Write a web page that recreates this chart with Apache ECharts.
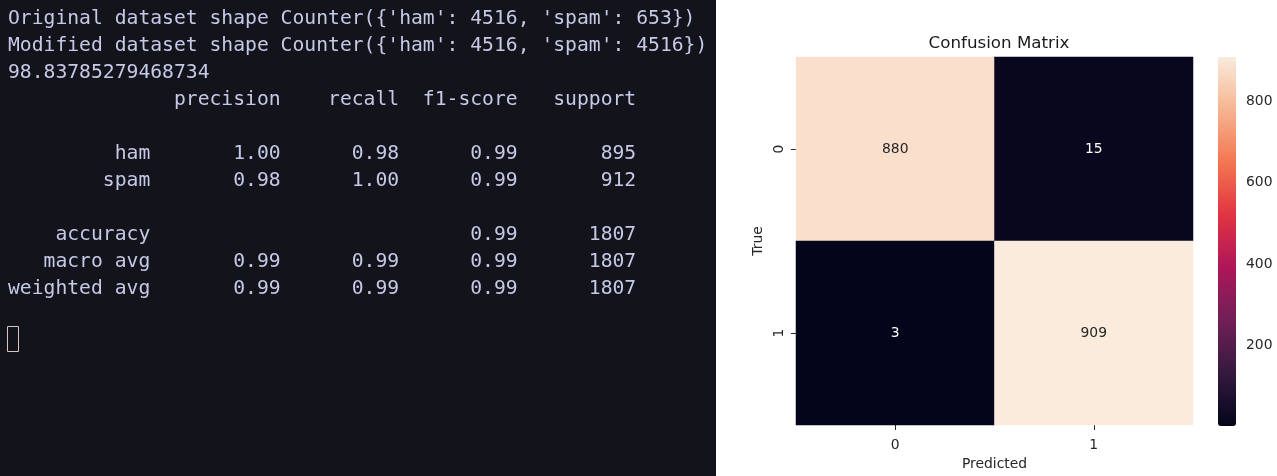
<!DOCTYPE html>
<html>
<head>
<meta charset="utf-8">
<script src="https://cdn.jsdelivr.net/npm/echarts@6/dist/echarts.min.js"></script>
<style>
html,body{margin:0;padding:0;background:#ffffff;}
#chart{width:1277px;height:476px;}
</style>
</head>
<body>
<div id="chart"></div>
<script>
// ---- data ----
const terminalLines = [
  "Original dataset shape Counter({'ham': 4516, 'spam': 653})",
  "Modified dataset shape Counter({'ham': 4516, 'spam': 4516})",
  "98.83785279468734",
  "              precision    recall  f1-score   support",
  "",
  "         ham       1.00      0.98      0.99       895",
  "        spam       0.98      1.00      0.99       912",
  "",
  "    accuracy                           0.99      1807",
  "   macro avg       0.99      0.99      0.99      1807",
  "weighted avg       0.99      0.99      0.99      1807"
];
const predictedLabels = ['0', '1'];
const trueLabels = ['0', '1'];
const confusion = [
  [880, 15],
  [3, 909]
];
const colorbarTicks = [200, 400, 600, 800];
const rocket = ['#03051a', '#35193e', '#701f57', '#ad1759', '#e13342', '#f37651', '#f6b48f', '#faebdd'];

// ---- build ----
const flat = confusion.flat();
const vMin = Math.min(...flat), vMax = Math.max(...flat);
const heatData = [];
confusion.forEach((row, r) => row.forEach((v, c) => {
  heatData.push({
    value: [c, r, v],
    label: { color: (v - vMin) / (vMax - vMin) > 0.5 ? '#262626' : '#ffffff' }
  });
}));

const lineStart = 19, lineStep = 26.95;
const termGraphics = [
  { type: 'rect', shape: { x: 0, y: 0, width: 716, height: 476 }, style: { fill: '#13131c' }, z: 0 }
];
terminalLines.forEach((t, i) => {
  if (!t) return;
  termGraphics.push({
    type: 'text', x: 8, y: lineStart + lineStep * i, z: 1,
    style: { text: t, fill: '#c4c9e6', font: '19.7px "DejaVu Sans Mono"', verticalAlign: 'middle', align: 'left' }
  });
});
termGraphics.push({
  type: 'rect', shape: { x: 7.5, y: 326.5, width: 11, height: 25 },
  style: { fill: 'none', stroke: '#d9c4c4', lineWidth: 1 }, z: 1
});

const chart = echarts.init(document.getElementById('chart'), null, { renderer: 'canvas' });
const font = 'DejaVu Sans';
const fs = 13.9;
chart.setOption({
  animation: false,
  backgroundColor: '#ffffff',
  textStyle: { fontFamily: font },
  title: {
    text: 'Confusion Matrix', left: 994, top: 30, textAlign: 'center',
    textStyle: { fontFamily: font, fontSize: 16.7, fontWeight: 'normal', color: '#1a1a1a' }
  },
  graphic: termGraphics,
  grid: [
    { left: 796, top: 57, width: 397, height: 369 },
    { left: 1218, top: 57, width: 18, height: 369 }
  ],
  xAxis: [
    {
      type: 'category', gridIndex: 0, data: predictedLabels, position: 'bottom',
      name: 'Predicted', nameLocation: 'middle', nameGap: 32,
      nameTextStyle: { fontFamily: font, fontSize: fs, color: '#262626' },
      axisLine: { show: false },
      axisTick: { show: true, alignWithLabel: true, length: 5, lineStyle: { color: '#262626' } },
      axisLabel: { fontFamily: font, fontSize: fs, color: '#262626', margin: 13 },
      splitLine: { show: false }
    },
    { type: 'value', gridIndex: 1, show: false }
  ],
  yAxis: [
    {
      type: 'category', gridIndex: 0, data: trueLabels, inverse: true,
      name: 'True', nameLocation: 'middle', nameGap: 31, nameRotate: 90,
      nameTextStyle: { fontFamily: font, fontSize: fs, color: '#262626' },
      axisLine: { show: false },
      axisTick: { show: true, alignWithLabel: true, length: 5, lineStyle: { color: '#262626' } },
      axisLabel: { fontFamily: font, fontSize: fs, color: '#262626', rotate: 90, margin: 10 },
      splitLine: { show: false }
    },
    {
      type: 'value', gridIndex: 1, min: vMin, max: vMax, position: 'right',
      axisLine: { show: false },
      splitLine: { show: false },
      axisTick: { show: true, length: 4, customValues: colorbarTicks, lineStyle: { color: '#262626' } },
      axisLabel: { fontFamily: font, fontSize: fs, color: '#262626', margin: 10, customValues: colorbarTicks }
    }
  ],
  visualMap: {
    type: 'continuous', min: vMin, max: vMax, calculable: false,
    orient: 'vertical', left: 1218, top: 57, itemWidth: 18, itemHeight: 369, padding: 0,
    text: null, seriesIndex: 0,
    inRange: { color: rocket }
  },
  series: [{
    type: 'heatmap', xAxisIndex: 0, yAxisIndex: 0,
    data: heatData,
    label: { show: true, fontFamily: font, fontSize: fs, formatter: p => String(p.value[2]) },
    itemStyle: { borderWidth: 0 },
    emphasis: { disabled: true }
  }]
});
</script>
</body>
</html>
